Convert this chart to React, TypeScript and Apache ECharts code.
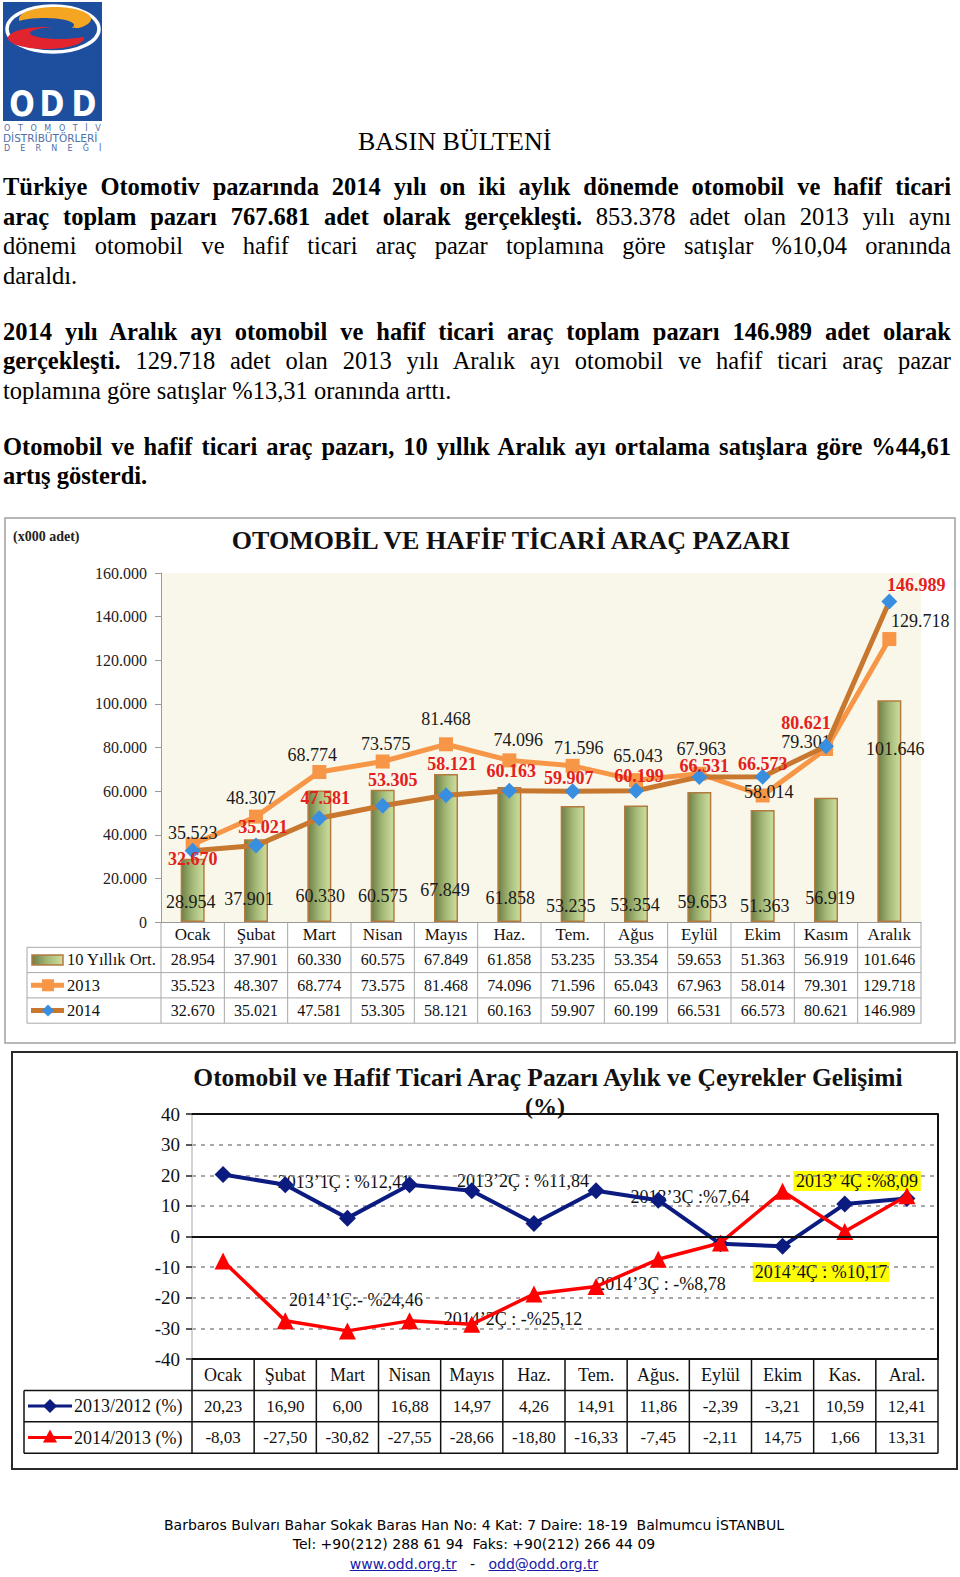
import React, { useEffect, useRef } from "react";
import * as echarts from "echarts";

// ---------------- data ----------------
const months1 = ["Ocak", "Şubat", "Mart", "Nisan", "Mayıs", "Haz.", "Tem.", "Ağus", "Eylül", "Ekim", "Kasım", "Aralık"];
const avg10Year = [28954, 37901, 60330, 60575, 67849, 61858, 53235, 53354, 59653, 51363, 56919, 101646];
const sales2013 = [35523, 48307, 68774, 73575, 81468, 74096, 71596, 65043, 67963, 58014, 79301, 129718];
const sales2014 = [32670, 35021, 47581, 53305, 58121, 60163, 59907, 60199, 66531, 66573, 80621, 146989];
const seriesNames1 = ["10 Yıllık Ort.", "2013", "2014"];

const months2 = ["Ocak", "Şubat", "Mart", "Nisan", "Mayıs", "Haz.", "Tem.", "Ağus.", "Eylül", "Ekim", "Kas.", "Aral."];
const change2013 = [20.23, 16.9, 6.0, 16.88, 14.97, 4.26, 14.91, 11.86, -2.39, -3.21, 10.59, 12.41];
const change2014 = [-8.03, -27.5, -30.82, -27.55, -28.66, -18.8, -16.33, -7.45, -2.11, 14.75, 1.66, 13.31];
const seriesNames2 = ["2013/2012 (%)", "2014/2013 (%)"];
const quarterNotes2013 = ["2013’1Ç : %12,41", "2013’2Ç : %11,84", "2013’3Ç :%7,64", "2013’ 4Ç :%8,09"];
const quarterNotes2014 = ["2014’1Ç:- %24,46", "2014’2Ç : -%25,12", "2014’3Ç : -%8,78", "2014’4Ç : %10,17"];

// ---------------- layout / style ----------------
const SERIF = '"Liberation Serif", "Times New Roman", serif';
const G1 = { left: 161, top: 573, width: 760, height: 349 };
const G2 = { left: 192, top: 1114, width: 746, height: 245 };
const lbl2013Off = [[0, -12], [-5, -19], [-7, -17], [3, -18], [0, -25], [9, -20], [6, -18], [2, -24], [2, -25], [6, -3], [-20, -7], [31, -18]];
const lbl2014Off = [[0, 8], [7, -19], [6, -20], [10, -26], [6, -31], [2, -20], [-4, -13], [3, -15], [5, -11], [0, -13], [-20, -23], [27, -16]];
const barLblOff = [[-2, -11], [-7, -14], [1, -17], [0, -17], [-1, -23], [1, -15], [-2, -7], [-1, -8], [3, -11], [2, -7], [4, -15], [6, -164]];
const notePos2013 = [[344, 1182], [523, 1181], [690, 1197], [857, 1181]];
const notePos2014 = [[356, 1300], [513, 1319], [661, 1284], [821, 1272]];
const highlightNote = [false, false, false, true];

function fmtThousands(v: number): string {
  if (v === 0) return "0";
  let rest = String(Math.round(v));
  const parts: string[] = [];
  while (rest.length > 3) {
    parts.unshift(rest.slice(-3));
    rest = rest.slice(0, -3);
  }
  parts.unshift(rest);
  return parts.join(".");
}
const fmtPct = (v: number) => v.toFixed(2).replace(".", ",");

function buildOption(): any {
  const g: any[] = [];
  const ln = (x1: number, y1: number, x2: number, y2: number, stroke: string, lineWidth: number) =>
    g.push({ type: "line", silent: true, shape: { x1, y1, x2, y2 }, style: { stroke, lineWidth } });
  const tx = (x: number, y: number, text: string, font: string, fill = "#111", textAlign = "center", extra: any = {}) =>
    g.push({ type: "text", silent: true, x, y, style: { text, font, fill, textAlign, textVerticalAlign: "middle", ...extra } });

  // ---- logo ----
  const BLUE = "#1d4f9e";
  g.push({ type: "rect", shape: { x: 3, y: 2, width: 99, height: 119 }, style: { fill: BLUE } });
  g.push({ type: "ellipse", shape: { cx: 53, cy: 29, rx: 46, ry: 23 }, style: { fill: "none", stroke: "#ffffff", lineWidth: 3.5 } });
  g.push({ type: "ellipse", shape: { cx: 55, cy: 19, rx: 36, ry: 12 }, style: { fill: "#f4a623" } });
  g.push({ type: "ellipse", shape: { cx: 44, cy: 25, rx: 30, ry: 7 }, style: { fill: BLUE } });
  g.push({ type: "ellipse", shape: { cx: 46, cy: 38, rx: 38, ry: 11 }, style: { fill: "#e2242f" } });
  g.push({ type: "ellipse", shape: { cx: 60, cy: 33, rx: 30, ry: 6 }, style: { fill: BLUE } });
  ["O", "D", "D"].forEach((ch, i) =>
    g.push({
      type: "text", silent: true, x: [22, 52, 84][i], y: 104, scaleY: 1.2,
      style: { text: ch, font: 'bold 30px "DejaVu Sans"', fill: "#ffffff", textAlign: "center", textVerticalAlign: "middle" },
    })
  );
  tx(4, 128, "O   T   O   M   O   T   İ   V", '8px "DejaVu Sans"', "#4f6fa8", "left");
  tx(3, 138, "DİSTRİBÜTÖRLERİ", '10.5px "DejaVu Sans"', "#4f6fa8", "left");
  tx(4, 148, "D    E    R    N    E    Ğ    İ", '8px "DejaVu Sans"', "#4f6fa8", "left");

  // ---- chart 1 frame & titles ----
  g.push({ type: "rect", shape: { x: 5, y: 518, width: 950, height: 525 }, style: { fill: "none", stroke: "#a0a0a0", lineWidth: 1.5 } });
  tx(511, 540, "OTOMOBİL VE HAFİF TİCARİ ARAÇ PAZARI", `bold 26px ${SERIF}`, "#111");
  tx(13, 536, "(x000 adet)", `bold 14px ${SERIF}`, "#222", "left");

  // ---- table 1 ----
  const cw1 = G1.width / 12;
  const t1 = G1.top + G1.height;
  const rh1 = 25.3;
  const L1 = 27;
  const R1 = G1.left + G1.width;
  const gridC1 = "#a8a8a8";
  for (let k = 0; k <= 12; k++) ln(G1.left + k * cw1, t1, G1.left + k * cw1, t1 + 4 * rh1, gridC1, 1);
  ln(L1, t1 + rh1, L1, t1 + 4 * rh1, gridC1, 1);
  for (let r = 1; r <= 4; r++) ln(L1, t1 + r * rh1, R1, t1 + r * rh1, gridC1, 1);
  months1.forEach((m, i) => tx(G1.left + cw1 * (i + 0.5), t1 + rh1 / 2, m, `17px ${SERIF}`));
  [avg10Year, sales2013, sales2014].forEach((arr, r) => {
    const cy = t1 + rh1 * (r + 1.5);
    tx(67, cy, seriesNames1[r], `16.5px ${SERIF}`, "#111", "left");
    arr.forEach((v, i) => tx(G1.left + cw1 * (i + 0.5), cy, fmtThousands(v), `16px ${SERIF}`));
  });
  const barGrad = new echarts.graphic.LinearGradient(0, 0, 1, 0, [
    { offset: 0, color: "#6e7f45" },
    { offset: 0.5, color: "#a4b978" },
    { offset: 1, color: "#cddf9f" },
  ]);
  {
    const cy0 = t1 + rh1 * 1.5;
    g.push({ type: "rect", shape: { x: 32, y: cy0 - 5, width: 31, height: 10 }, style: { fill: barGrad, stroke: "#b47b3e", lineWidth: 1.5 } });
    const cy1 = t1 + rh1 * 2.5;
    ln(31, cy1, 64, cy1, "#f79646", 5);
    g.push({ type: "rect", shape: { x: 42, y: cy1 - 6, width: 12, height: 12 }, style: { fill: "#f79646" } });
    const cy2 = t1 + rh1 * 3.5;
    ln(31, cy2, 64, cy2, "#c8772f", 5);
    g.push({ type: "polygon", shape: { points: [[48, cy2 - 6], [54, cy2], [48, cy2 + 6], [42, cy2]] }, style: { fill: "#3a8ee0" } });
  }

  // ---- chart 2 frame & titles ----
  g.push({ type: "rect", shape: { x: 12, y: 1052, width: 945, height: 417 }, style: { fill: "none", stroke: "#2a2a2a", lineWidth: 2 } });
  tx(548, 1077, "Otomobil ve Hafif Ticari Araç Pazarı Aylık ve Çeyrekler Gelişimi", `bold 25.5px ${SERIF}`, "#111");
  tx(545, 1106, "(%)", `bold 24px ${SERIF}`, "#111");

  // ---- table 2 ----
  const cw2 = G2.width / 12;
  const t2 = G2.top + G2.height;
  const rh2 = 31.4;
  const L2 = 24;
  const R2 = G2.left + G2.width;
  for (let k = 0; k <= 12; k++) ln(G2.left + k * cw2, t2, G2.left + k * cw2, t2 + 3 * rh2, "#111", 1.5);
  ln(L2, t2 + rh2, L2, t2 + 3 * rh2, "#111", 1.5);
  for (let r = 1; r <= 3; r++) ln(L2, t2 + r * rh2, R2, t2 + r * rh2, "#111", 1.5);
  months2.forEach((m, i) => tx(G2.left + cw2 * (i + 0.5), t2 + rh2 / 2, m, `18px ${SERIF}`));
  [change2013, change2014].forEach((arr, r) => {
    const cy = t2 + rh2 * (r + 1.5);
    tx(74, cy, seriesNames2[r], `18px ${SERIF}`, "#111", "left");
    arr.forEach((v, i) => tx(G2.left + cw2 * (i + 0.5), cy, fmtPct(v), `17px ${SERIF}`));
  });
  {
    const cyA = t2 + rh2 * 1.5;
    ln(28, cyA, 72, cyA, "#0b1b80", 3);
    g.push({ type: "polygon", shape: { points: [[50, cyA - 7], [57, cyA], [50, cyA + 7], [43, cyA]] }, style: { fill: "#0b1b80" } });
    const cyB = t2 + rh2 * 2.5;
    ln(28, cyB, 72, cyB, "#ff0000", 3);
    g.push({ type: "polygon", shape: { points: [[50, cyB - 8], [57, cyB + 5], [43, cyB + 5]] }, style: { fill: "#ff0000" } });
  }

  // ---- quarter notes ----
  const noteFont = `18px ${SERIF}`;
  quarterNotes2013.forEach((t, i) =>
    tx(notePos2013[i][0], notePos2013[i][1], t, noteFont, "#111", "center",
      highlightNote[i] ? { backgroundColor: "#ffff00", padding: [1, 2] } : {})
  );
  quarterNotes2014.forEach((t, i) =>
    tx(notePos2014[i][0], notePos2014[i][1], t, noteFont, "#111", "center",
      highlightNote[i] ? { backgroundColor: "#ffff00", padding: [1, 2] } : {})
  );

  const lblFmt = (p: any) => fmtThousands(p.value);

  return {
    animation: false,
    backgroundColor: "transparent",
    grid: [
      { ...G1, show: true, backgroundColor: "#f9f7ea", borderWidth: 0 },
      { ...G2, show: false },
    ],
    xAxis: [
      {
        type: "category", gridIndex: 0, data: months1,
        axisLabel: { show: false }, axisTick: { show: false },
        axisLine: { lineStyle: { color: "#9a9a9a", width: 1 } },
      },
      {
        type: "category", gridIndex: 1, data: months2,
        axisLabel: { show: false }, axisTick: { show: false }, axisLine: { show: false },
      },
    ],
    yAxis: [
      {
        type: "value", gridIndex: 0, min: 0, max: 160000, interval: 20000,
        axisLine: { show: true, lineStyle: { color: "#9a9a9a" } },
        axisTick: { show: true, length: 6, lineStyle: { color: "#9a9a9a" } },
        axisLabel: { formatter: (v: number) => fmtThousands(v), fontFamily: SERIF, fontSize: 16, color: "#222", margin: 14 },
        splitLine: { show: false },
      },
      {
        type: "value", gridIndex: 1, min: -40, max: 40, interval: 10,
        axisLine: { show: true, lineStyle: { color: "#c4c4c4", width: 1.5 } },
        axisTick: { show: true, length: 6, lineStyle: { color: "#222", width: 1.5 } },
        axisLabel: { fontFamily: SERIF, fontSize: 19, color: "#111", margin: 12 },
        splitLine: { show: true, lineStyle: { color: "#8c8c8c", type: [4, 5], width: 1.5 } },
      },
      {
        type: "value", gridIndex: 1, min: -40, max: 40, interval: 10, position: "right",
        axisLine: { show: true, onZero: false, lineStyle: { color: "#111", width: 2 } },
        axisTick: { show: false }, axisLabel: { show: false }, splitLine: { show: false },
      },
    ],
    graphic: { elements: g },
    series: [
      {
        type: "bar", name: seriesNames1[0], xAxisIndex: 0, yAxisIndex: 0, barWidth: 24, z: 2,
        data: avg10Year.map((v, i) => ({ value: v, label: { offset: barLblOff[i] } })),
        itemStyle: { color: barGrad, borderColor: "#b47b3e", borderWidth: 1.5 },
        label: { show: true, position: "insideBottom", distance: 0, formatter: lblFmt, fontFamily: SERIF, fontSize: 18, color: "#1a1a1a" },
      },
      {
        type: "line", name: seriesNames1[1], xAxisIndex: 0, yAxisIndex: 0, z: 3,
        data: sales2013.map((v, i) => ({ value: v, label: { offset: lbl2013Off[i] } })),
        symbol: "rect", symbolSize: 14,
        itemStyle: { color: "#f79646" }, lineStyle: { color: "#f79646", width: 5 },
        label: { show: true, position: "inside", formatter: lblFmt, fontFamily: SERIF, fontSize: 18, color: "#1a1a1a" },
      },
      {
        type: "line", name: seriesNames1[2], xAxisIndex: 0, yAxisIndex: 0, z: 4,
        data: sales2014.map((v, i) => ({ value: v, label: { offset: lbl2014Off[i] } })),
        symbol: "diamond", symbolSize: 16,
        itemStyle: { color: "#3a8ee0" }, lineStyle: { color: "#c8772f", width: 5 },
        label: { show: true, position: "inside", formatter: lblFmt, fontFamily: SERIF, fontSize: 18, fontWeight: "bold", color: "#e3201b" },
      },
      {
        type: "line", name: seriesNames2[0], xAxisIndex: 1, yAxisIndex: 1, z: 3,
        data: change2013, symbol: "diamond", symbolSize: 17,
        itemStyle: { color: "#0b1b80" }, lineStyle: { color: "#0b1b80", width: 4 },
        markLine: {
          silent: true, symbol: ["none", "none"], label: { show: false },
          lineStyle: { color: "#111", type: "solid", width: 2 },
          data: [{ yAxis: 40 }, { yAxis: 0 }, { yAxis: -40 }],
        },
      },
      {
        type: "line", name: seriesNames2[1], xAxisIndex: 1, yAxisIndex: 1, z: 4,
        data: change2014, symbol: "triangle", symbolSize: 17,
        itemStyle: { color: "#ff0000" }, lineStyle: { color: "#ff0000", width: 3.5 },
      },
    ],
  };
}

const baseLine: React.CSSProperties = {
  position: "absolute", left: 3, width: 948, height: 30, lineHeight: "30px",
  fontFamily: SERIF, fontSize: 24.5, color: "#000", whiteSpace: "nowrap",
};
const just: React.CSSProperties = { textAlign: "justify", textAlignLast: "justify" };

export default function App() {
  const ref = useRef<HTMLDivElement>(null);
  useEffect(() => {
    if (!ref.current) return;
    const chart = echarts.init(ref.current, undefined, { renderer: "svg" });
    chart.setOption(buildOption());
    return () => chart.dispose();
  }, []);

  const L = (top: number, justify: boolean, children: React.ReactNode) => (
    <div style={{ ...baseLine, ...(justify ? just : {}), top: top - 15 }}>{children}</div>
  );
  const footer: React.CSSProperties = {
    position: "absolute", left: 0, width: 948, textAlign: "center", fontFamily: '"DejaVu Sans", sans-serif',
    fontSize: 14, height: 19, lineHeight: "19px", color: "#000", whiteSpace: "nowrap",
  };
  const link: React.CSSProperties = { color: "#1a1aa8", textDecoration: "underline" };

  return (
    <div style={{ position: "absolute", left: 0, top: 0, width: 960, height: 1577, background: "#fff", overflow: "hidden" }}>
      <div ref={ref} style={{ position: "absolute", left: 0, top: 0, width: 960, height: 1577 }} />
      <div style={{ position: "absolute", left: 358, top: 128, fontFamily: SERIF, fontSize: 26, lineHeight: "28px", color: "#000", whiteSpace: "nowrap" }}>
        BASIN BÜLTENİ
      </div>
      {L(187, true, <b>Türkiye Otomotiv pazarında 2014 yılı on iki aylık dönemde otomobil ve hafif ticari</b>)}
      {L(216.5, true, <><b>araç toplam pazarı 767.681 adet olarak gerçekleşti.</b> 853.378 adet olan 2013 yılı aynı</>)}
      {L(246, true, <>dönemi otomobil ve hafif ticari araç pazar toplamına göre satışlar %10,04 oranında</>)}
      {L(275.5, false, <>daraldı.</>)}
      {L(332, true, <b>2014 yılı Aralık ayı otomobil ve hafif ticari araç toplam pazarı 146.989 adet olarak</b>)}
      {L(361, true, <><b>gerçekleşti.</b> 129.718 adet olan 2013 yılı Aralık ayı otomobil ve hafif ticari araç pazar</>)}
      {L(391, false, <>toplamına göre satışlar %13,31 oranında arttı.</>)}
      {L(447, true, <b>Otomobil ve hafif ticari araç pazarı, 10 yıllık Aralık ayı ortalama satışlara göre %44,61</b>)}
      {L(476, false, <b>artış gösterdi.</b>)}
      <div style={{ ...footer, top: 1525 - 9.5 }}>Barbaros Bulvarı Bahar Sokak Baras Han No: 4 Kat: 7 Daire: 18-19&nbsp; Balmumcu İSTANBUL</div>
      <div style={{ ...footer, top: 1544 - 9.5 }}>Tel: +90(212) 288 61 94&nbsp; Faks: +90(212) 266 44 09</div>
      <div style={{ ...footer, top: 1564 - 9.5 }}>
        <span style={link}>www.odd.org.tr</span>&nbsp;&nbsp; -&nbsp;&nbsp; <span style={link}>odd@odd.org.tr</span>
      </div>
    </div>
  );
}
